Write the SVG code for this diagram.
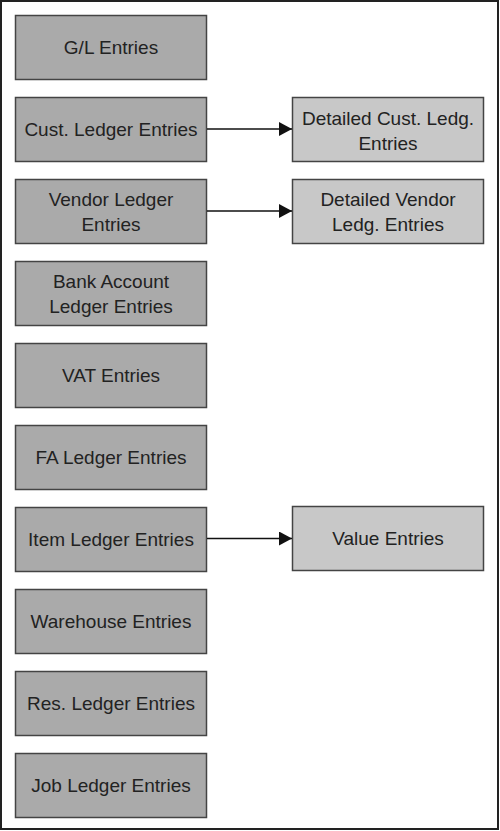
<svg xmlns="http://www.w3.org/2000/svg" width="500" height="831" viewBox="0 0 500 831">
<style>
.frame{fill:#fff;stroke:#222;stroke-width:2}
.l{fill:#aaaaaa;stroke:#444;stroke-width:1.5}
.r{fill:#c8c8c8;stroke:#444;stroke-width:1.5}
text{font-family:"Liberation Sans",Arial,sans-serif;font-size:19px;fill:#222;text-anchor:middle}
.c{stroke:#111;stroke-width:1.3;fill:none}
</style>
<defs>
<marker id="ah" markerUnits="userSpaceOnUse" markerWidth="14" markerHeight="14" refX="13" refY="7" orient="auto">
<path d="M0,0 L13,7 L0,14 Z" fill="#111"/>
</marker>
</defs>
<rect class="frame" x="1" y="1" width="497" height="828"/>
<g id="gl"><rect class="l" x="15.5" y="15.5" width="191" height="64"/><text x="111" y="54">G/L Entries</text></g>
<g id="cust"><rect class="l" x="15.5" y="97.5" width="191" height="64"/><text x="111" y="136">Cust. Ledger Entries</text></g>
<g id="vendor"><rect class="l" x="15.5" y="179.5" width="191" height="64"/><text x="111" y="205.5">Vendor Ledger</text><text x="111" y="230.5">Entries</text></g>
<g id="bank"><rect class="l" x="15.5" y="261.5" width="191" height="64"/><text x="111" y="287.5">Bank Account</text><text x="111" y="312.5">Ledger Entries</text></g>
<g id="vat"><rect class="l" x="15.5" y="343.5" width="191" height="64"/><text x="111" y="382">VAT Entries</text></g>
<g id="fa"><rect class="l" x="15.5" y="425.5" width="191" height="64"/><text x="111" y="464">FA Ledger Entries</text></g>
<g id="item"><rect class="l" x="15.5" y="507.5" width="191" height="64"/><text x="111" y="546">Item Ledger Entries</text></g>
<g id="warehouse"><rect class="l" x="15.5" y="589.5" width="191" height="64"/><text x="111" y="628">Warehouse Entries</text></g>
<g id="res"><rect class="l" x="15.5" y="671.5" width="191" height="64"/><text x="111" y="710">Res. Ledger Entries</text></g>
<g id="job"><rect class="l" x="15.5" y="753.5" width="191" height="64"/><text x="111" y="792">Job Ledger Entries</text></g>
<g id="dcust"><rect class="r" x="292.5" y="97.5" width="191" height="64"/><text x="388" y="124.5">Detailed Cust. Ledg.</text><text x="388" y="149.5">Entries</text></g>
<g id="dvendor"><rect class="r" x="292.5" y="179.5" width="191" height="64"/><text x="388" y="205.5">Detailed Vendor</text><text x="388" y="230.5">Ledg. Entries</text></g>
<g id="value"><rect class="r" x="292.5" y="506.5" width="191" height="64"/><text x="388" y="545">Value Entries</text></g>
<g id="connectors">
<line class="c" x1="207" y1="129" x2="292" y2="129" marker-end="url(#ah)"/>
<line class="c" x1="207" y1="211" x2="292" y2="211" marker-end="url(#ah)"/>
<line class="c" x1="207" y1="538.5" x2="292" y2="538.5" marker-end="url(#ah)"/>
</g>
</svg>
